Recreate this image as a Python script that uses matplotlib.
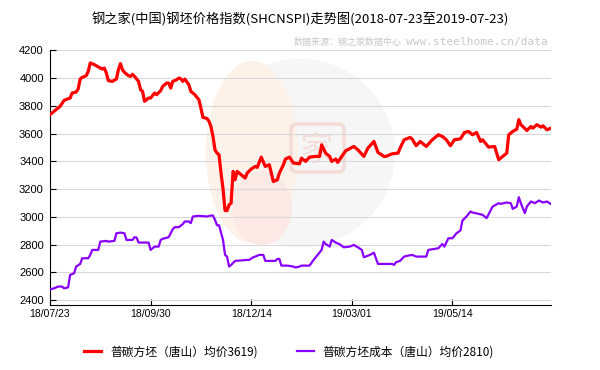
import numpy as np
import matplotlib
matplotlib.use("Agg")
from matplotlib import pyplot as plt
from matplotlib.patches import Ellipse, FancyBboxPatch

plt.rcParams["font.family"] = ["Noto Sans CJK SC", "DejaVu Sans"]

title = "钢之家(中国)钢坯价格指数(SHCNSPI)走势图(2018-07-23至2019-07-23)"
source_cn = "数据来源：钢之家数据中心"
source_url = "www.steelhome.cn/data"

# x axis is the trading-day index, a label every 50 days
tick_idx = [0, 50, 100, 150, 200]
tick_labels = ["18/07/23", "18/09/30", "18/12/14", "19/03/01", "19/05/14"]
y_ticks = [2400, 2600, 2800, 3000, 3200, 3400, 3600, 3800, 4000, 4200]

price_name = "普碳方坯（唐山）均价"
cost_name = "普碳方坯成本（唐山）均价"
price_avg = 3619
cost_avg = 2810

price_idx = [0, 2, 5, 7, 9, 10, 11, 13, 14, 15, 16, 18, 19, 20, 22, 24, 26, 27, 28, 29,
             31, 33, 34, 35, 36, 37, 39, 40, 41, 42, 44, 45, 46, 47, 49, 50, 52, 53, 55, 56,
             58, 59, 60, 61, 63, 64, 65, 66, 67, 69, 70, 72, 74, 75, 76, 78, 79, 80, 81, 82,
             83, 84, 85, 86, 87, 88, 89, 90, 91, 92, 93, 94, 95, 97, 98, 100, 102, 103, 105, 107,
             109, 110, 111, 113, 114, 116, 117, 119, 121, 124, 125, 127, 129, 132, 134, 135, 137, 139, 140, 142,
             143, 145, 147, 151, 153, 156, 158, 161, 163, 166, 167, 170, 173, 174, 176, 179, 180, 182, 184, 187,
             190, 193, 195, 197, 199, 201, 204, 206, 208, 210, 212, 214, 215, 218, 221, 223, 225, 227, 228, 230,
             232, 233, 234, 235, 237, 239, 240, 242, 244, 245, 247, 249]
price_val = [3736, 3760, 3796, 3839, 3851, 3856, 3892, 3899, 3921, 3993, 4005, 4017, 4048, 4109, 4097, 4080, 4065, 4072, 4036, 3981,
             3976, 3993, 4060, 4104, 4060, 4041, 4017, 4012, 4027, 4012, 3976, 3916, 3904, 3832, 3856, 3856, 3892, 3880, 3909, 3940,
             3964, 3964, 3928, 3976, 3988, 4000, 3995, 3976, 3993, 3952, 3904, 3880, 3844, 3784, 3716, 3709, 3688, 3651, 3579, 3483,
             3459, 3447, 3315, 3200, 3045, 3045, 3086, 3098, 3327, 3267, 3327, 3315, 3303, 3279, 3315, 3344, 3363, 3356, 3430, 3363,
             3375, 3315, 3254, 3267, 3315, 3375, 3416, 3430, 3387, 3382, 3423, 3399, 3430, 3435, 3435, 3519, 3459, 3435, 3399, 3416,
             3392, 3435, 3476, 3507, 3483, 3435, 3495, 3543, 3464, 3435, 3435, 3454, 3459, 3495, 3555, 3572, 3560, 3512, 3543, 3507,
             3555, 3591, 3579, 3555, 3512, 3555, 3562, 3608, 3615, 3591, 3608, 3543, 3555, 3502, 3507, 3411, 3435, 3459, 3591, 3615,
             3632, 3700, 3664, 3651, 3622, 3651, 3639, 3664, 3646, 3656, 3627, 3639]

cost_idx = [0, 2, 4, 6, 7, 9, 10, 12, 13, 15, 16, 19, 20, 21, 24, 25, 28, 29, 32, 33,
            35, 37, 38, 41, 42, 43, 44, 49, 50, 52, 54, 55, 56, 59, 61, 62, 64, 66, 67, 69,
            70, 71, 74, 78, 80, 81, 82, 83, 84, 86, 87, 88, 89, 90, 92, 94, 98, 99, 101, 102,
            104, 106, 107, 112, 113, 114, 115, 118, 121, 122, 124, 125, 129, 131, 133, 134, 135, 136, 137, 139,
            140, 142, 144, 146, 149, 151, 153, 155, 156, 159, 161, 163, 170, 171, 172, 174, 176, 178, 180, 182,
            187, 188, 191, 193, 195, 196, 198, 200, 202, 204, 205, 207, 209, 210, 213, 215, 217, 219, 220, 223,
            224, 227, 229, 230, 232, 233, 234, 236, 237, 239, 241, 243, 245, 247, 249]
cost_val = [2477, 2484, 2497, 2497, 2484, 2491, 2581, 2593, 2641, 2660, 2701, 2701, 2725, 2761, 2761, 2821, 2826, 2821, 2826, 2881,
            2886, 2881, 2833, 2833, 2853, 2850, 2814, 2814, 2761, 2785, 2785, 2833, 2841, 2853, 2910, 2925, 2925, 2947, 2966, 2966,
            2954, 3002, 3007, 3002, 3009, 3009, 2978, 2939, 2939, 2833, 2725, 2713, 2641, 2653, 2682, 2684, 2689, 2689, 2708, 2713,
            2725, 2725, 2682, 2682, 2696, 2696, 2648, 2648, 2641, 2634, 2641, 2648, 2648, 2689, 2725, 2744, 2761, 2821, 2804, 2785,
            2833, 2814, 2802, 2780, 2785, 2797, 2780, 2761, 2708, 2725, 2741, 2660, 2660, 2653, 2672, 2682, 2713, 2720, 2725, 2713,
            2713, 2761, 2768, 2773, 2804, 2785, 2845, 2845, 2881, 2901, 2973, 3002, 3038, 3031, 3021, 3014, 2990, 3045, 3074, 3098,
            3093, 3103, 3098, 3057, 3074, 3141, 3098, 3026, 3074, 3110, 3098, 3117, 3103, 3110, 3091]


def fpos(x, y):
    # pixel position on the 600x370 canvas -> figure fraction
    return (x / 600, 1 - y / 370)


fig = plt.figure(figsize=(6, 3.7), dpi=100)

# faint logo watermark on its own full-figure axes, under the chart
bg = fig.add_axes([0, 0, 1, 1], zorder=0)
bg.set_xlim(0, 600)
bg.set_ylim(370, 0)
bg.axis("off")
bg.add_patch(Ellipse((300, 153), 190, 188, facecolor="#f6f6f6", edgecolor="none"))
bg.add_patch(Ellipse((252, 152), 92, 182, facecolor="#fdf2ea", edgecolor="none"))
bg.add_patch(Ellipse((262, 208), 60, 74, facecolor="#fce8e4", edgecolor="none"))
bg.add_patch(FancyBboxPatch((291, 124), 53, 48, boxstyle="round,pad=0,rounding_size=6",
                            facecolor="none", edgecolor="#f3dcd7", lw=2.5))
bg.text(317, 150, "家", ha="center", va="center", fontsize=24, color="#f4dfda")

ax = fig.add_axes([50 / 600, 1 - 305 / 370, 501 / 600, 254.7 / 370], zorder=1)
ax.patch.set_alpha(0)

ax.plot(price_idx, price_val, color="#ff0000", lw=2.3, solid_joinstyle="round", zorder=3)
ax.plot(cost_idx, cost_val, color="#8a00ff", lw=1.6, solid_joinstyle="round", zorder=3)

ax.set_xlim(0, 249)
ax.set_ylim(2364, 4200)
ax.set_xticks(tick_idx, tick_labels)
ax.set_yticks(y_ticks)
ax.set_axisbelow(True)
ax.yaxis.grid(True, color="#d8d8d8", lw=0.8)
for s in ["top", "right"]:
    ax.spines[s].set_visible(False)
for s in ["left", "bottom"]:
    ax.spines[s].set_color("black")
    ax.spines[s].set_linewidth(0.8)
ax.tick_params(axis="y", direction="in", length=4, width=0.8, pad=4.5,
               labelsize=8, labelfontfamily="Liberation Sans")
ax.tick_params(axis="x", direction="in", length=4, width=0.8, pad=3,
               labelsize=7.5, labelfontfamily="Liberation Sans")

fig.text(0.5, 1 - 19 / 370, title, ha="center", va="center", fontsize=9.5)
fig.text(402 / 600, 1 - 42 / 370, source_cn, ha="right", va="center", fontsize=6.5, color="#c8c8c8")
fig.text(406 / 600, 1 - 42 / 370, source_url, ha="left", va="center", fontsize=8,
         family="DejaVu Sans Mono", color="#c8c8c8")

labels = [f"{price_name}{price_avg})", f"{cost_name}{cost_avg})"]
fig.legend(ax.get_lines(), labels, loc="center left", bbox_to_anchor=fpos(84, 352),
           ncol=2, frameon=False, fontsize=8.5, handlelength=1.45, handletextpad=0.75,
           columnspacing=3.3, borderpad=0, borderaxespad=0)

fig.savefig("out.png", dpi=100)
